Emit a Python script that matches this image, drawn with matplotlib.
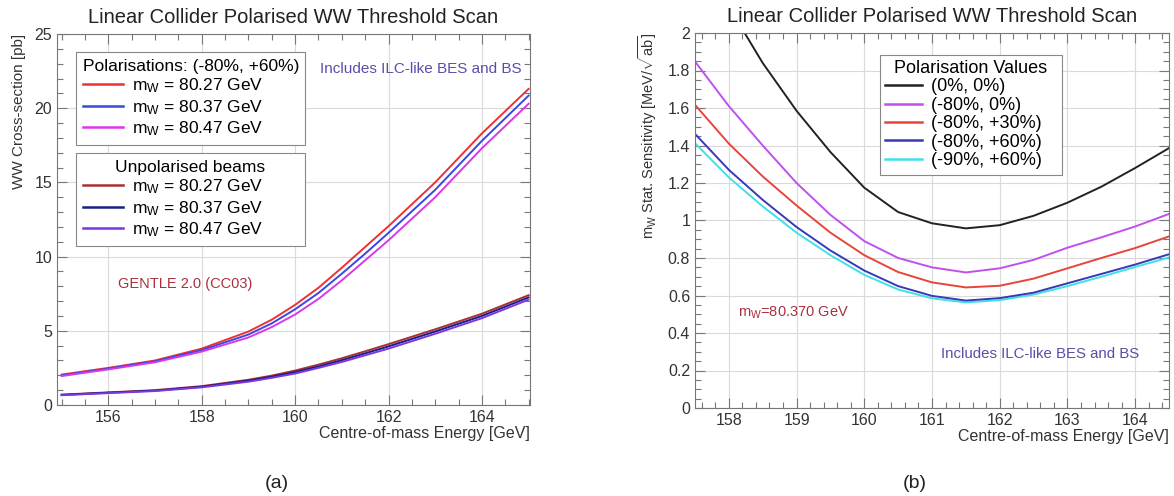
import matplotlib
matplotlib.use('Agg')
from matplotlib import pyplot as plt
from matplotlib.ticker import MultipleLocator
from matplotlib.lines import Line2D

plt.rcParams['font.family'] = ['Liberation Sans', 'DejaVu Sans']
plt.rcParams['mathtext.fontset'] = 'custom'
plt.rcParams['mathtext.rm'] = 'Liberation Sans'
plt.rcParams['mathtext.it'] = 'Liberation Sans:italic'
plt.rcParams['mathtext.bf'] = 'Liberation Sans:bold'

# (a) cross-section vs centre-of-mass energy
energy_a = [155, 156, 157, 158, 159, 159.5, 160, 160.5, 161, 161.5, 162, 163, 164, 165]
pol_8027 = [2.05, 2.5, 3.0, 3.8, 4.95, 5.75, 6.75, 7.9, 9.25, 10.65, 12.05, 15.0, 18.3, 21.3]
pol_8037 = [2.0, 2.45, 2.95, 3.7, 4.75, 5.5, 6.45, 7.55, 8.85, 10.2, 11.6, 14.5, 17.8, 20.85]
pol_8047 = [1.95, 2.4, 2.88, 3.6, 4.55, 5.25, 6.1, 7.15, 8.4, 9.75, 11.1, 14.0, 17.3, 20.3]
unpol_8027 = [0.70, 0.85, 1.0, 1.27, 1.7, 1.98, 2.32, 2.72, 3.15, 3.62, 4.1, 5.1, 6.15, 7.4]
unpol_8037 = [0.68, 0.83, 0.97, 1.23, 1.64, 1.91, 2.22, 2.6, 3.02, 3.48, 3.95, 4.95, 6.0, 7.25]
unpol_8047 = [0.66, 0.80, 0.94, 1.19, 1.57, 1.83, 2.12, 2.5, 2.9, 3.35, 3.8, 4.8, 5.85, 7.1]
mw_labels = ['80.27', '80.37', '80.47']

# (b) stat. sensitivity vs energy
energy_b = [157.5, 158, 158.5, 159, 159.5, 160, 160.5, 161, 161.5, 162, 162.5, 163, 163.5, 164, 164.5]
sens_0_0 = [2.48, 2.14, 1.84, 1.585, 1.365, 1.175, 1.045, 0.985, 0.958, 0.975, 1.025, 1.095, 1.18, 1.28, 1.386]
sens_80_0 = [1.848, 1.61, 1.40, 1.20, 1.03, 0.89, 0.80, 0.75, 0.723, 0.745, 0.79, 0.855, 0.91, 0.968, 1.035]
sens_80_30 = [1.617, 1.41, 1.235, 1.08, 0.935, 0.815, 0.725, 0.67, 0.643, 0.652, 0.69, 0.745, 0.80, 0.853, 0.915]
sens_80_60 = [1.462, 1.27, 1.11, 0.965, 0.84, 0.733, 0.65, 0.598, 0.573, 0.586, 0.615, 0.665, 0.715, 0.765, 0.82]
sens_90_60 = [1.412, 1.23, 1.075, 0.935, 0.815, 0.71, 0.632, 0.585, 0.563, 0.575, 0.605, 0.65, 0.70, 0.752, 0.803]
pol_labels = ['(0%, 0%)', '(-80%, 0%)', '(-80%, +30%)', '(-80%, +60%)', '(-90%, +60%)']

fig = plt.figure(figsize=(11.74, 4.96), dpi=100)
ax1 = fig.add_axes([57/1174, 1 - 405/496, 473/1174, 371/496])
ax2 = fig.add_axes([695/1174, 1 - 408/496, 474/1174, 375/496])


def style(ax):
    ax.grid(True, which='major', color='#dadada', lw=0.8)
    ax.set_axisbelow(True)
    ax.tick_params(which='both', direction='in', top=True, right=True,
                   colors='#777777', labelcolor='#333333', labelsize=11.5)
    ax.tick_params(which='major', length=7, width=0.8)
    ax.tick_params(which='minor', length=4, width=0.8)
    for s in ax.spines.values():
        s.set_color('#777777')
        s.set_linewidth(0.8)


# ---- panel (a)
lw = 1.4
c_pol = ['#ee3030', '#3848e0', '#d838ea']
c_unp = ['#a83030', '#1c1c88', '#7a38e0']
for y, c in zip([pol_8027, pol_8037, pol_8047], c_pol):
    ax1.plot(energy_a, y, color=c, lw=lw)
for y, c in zip([unpol_8027, unpol_8037, unpol_8047], c_unp):
    ax1.plot(energy_a, y, color=c, lw=lw)
ax1.set_xlim(154.9, 165.03)
ax1.set_ylim(0, 25)
ax1.xaxis.set_major_locator(MultipleLocator(2))
ax1.xaxis.set_minor_locator(MultipleLocator(0.5))
ax1.yaxis.set_major_locator(MultipleLocator(5))
ax1.yaxis.set_minor_locator(MultipleLocator(1))
style(ax1)
ax1.set_title('Linear Collider Polarised WW Threshold Scan', fontsize=14.5, pad=8, color='#222222')
ax1.set_xlabel('Centre-of-mass Energy [GeV]', fontsize=11.5, loc='right', labelpad=1, color='#333333')
ax1.set_ylabel('WW Cross-section [pb]', fontsize=11, loc='top', labelpad=6, color='#333333')

h1 = [Line2D([], [], color=c, lw=1.8) for c in c_pol]
h2 = [Line2D([], [], color=c, lw=1.8) for c in c_unp]
labs = ['m$_{\\rm W}$ = %s GeV' % m for m in mw_labels]
leg_kw = dict(fontsize=12.5, title_fontsize=12.5, frameon=True, fancybox=False,
              edgecolor='#888888', framealpha=1, handlelength=2.3, handletextpad=0.55,
              borderpad=0.4, labelspacing=0.16, borderaxespad=0, mode='expand')
leg1 = ax1.legend(h1, labs, title='Polarisations: (-80%, +60%)', alignment='left',
                  loc='upper left', bbox_to_anchor=(19/473, 1 - 18/371, 229/473, 0.001), **leg_kw)
leg1.get_frame().set_linewidth(0.8)
ax1.add_artist(leg1)
leg2 = ax1.legend(h2, labs, title='Unpolarised beams', alignment='center',
                  loc='upper left', bbox_to_anchor=(19/473, 1 - 119/371, 229/473, 0.001), **leg_kw)
leg2.get_frame().set_linewidth(0.8)
ax1.text(0.555, 0.905, 'Includes ILC-like BES and BS', transform=ax1.transAxes,
         fontsize=11, color='#5a4ea8', va='center')
ax1.text(0.13, 0.325, 'GENTLE 2.0 (CC03)', transform=ax1.transAxes,
         fontsize=10.5, color='#a83040', va='center')

# ---- panel (b)
c_b = ['#222222', '#c050ee', '#e8443a', '#3838b8', '#40e0e8']
for y, c in zip([sens_0_0, sens_80_0, sens_80_30, sens_80_60, sens_90_60][::-1], c_b[::-1]):
    ax2.plot(energy_b, y, color=c, lw=lw)
ax2.set_xlim(157.5, 164.5)
ax2.set_ylim(0, 2)
ax2.xaxis.set_major_locator(MultipleLocator(1))
ax2.xaxis.set_minor_locator(MultipleLocator(0.2))
ax2.yaxis.set_major_locator(MultipleLocator(0.2))
ax2.yaxis.set_minor_locator(MultipleLocator(0.05))
ax2.yaxis.set_major_formatter(plt.FuncFormatter(lambda v, p: '%g' % round(v, 2)))
style(ax2)
ax2.set_title('Linear Collider Polarised WW Threshold Scan', fontsize=14.5, pad=8, color='#222222')
ax2.set_xlabel('Centre-of-mass Energy [GeV]', fontsize=11.5, loc='right', labelpad=1, color='#333333')
ax2.set_ylabel('m$_{\\rm W}$ Stat. Sensitivity [MeV/$\\sqrt{\\rm ab}$]', fontsize=10.5,
               loc='top', labelpad=6, color='#333333')
hb = [Line2D([], [], color=c, lw=1.8) for c in c_b]
legb_kw = dict(leg_kw, fontsize=13, title_fontsize=13, labelspacing=0.08,
               handlelength=2.0, borderpad=0.3, mode='expand')
legb = ax2.legend(hb, pol_labels, title='Polarisation Values', alignment='center',
                  loc='upper left', bbox_to_anchor=(185/474, 1 - 22/375, 182/474, 0.001), **legb_kw)
legb.get_frame().set_linewidth(0.8)
ax2.text(0.09, 0.255, 'm$_{\\rm W}$=80.370 GeV', transform=ax2.transAxes,
         fontsize=10.5, color='#a83040', va='center')
ax2.text(0.52, 0.145, 'Includes ILC-like BES and BS', transform=ax2.transAxes,
         fontsize=10.8, color='#5a4ea8', va='center')

fig.text(277/1174, 1 - 483/496, '(a)', fontsize=14, ha='center', va='center', color='#222222')
fig.text(915/1174, 1 - 483/496, '(b)', fontsize=14, ha='center', va='center', color='#222222')

fig.savefig('out.png', dpi=100)
